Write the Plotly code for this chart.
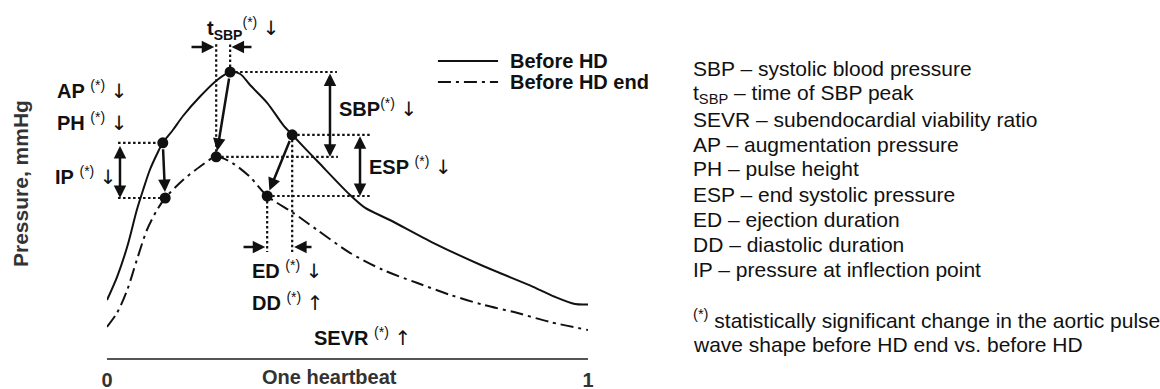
import plotly.graph_objects as go

# ---------------- data (time as fraction of one heartbeat, pressure in mmHg) ----------------
t_before = [0.000, 0.021, 0.042, 0.062, 0.075, 0.089, 0.104, 0.116, 0.137, 0.158, 0.193, 0.229,
            0.256, 0.277, 0.297, 0.333, 0.366, 0.385, 0.439, 0.505, 0.536, 0.588, 0.678, 0.782,
            0.886, 0.931, 0.973, 1.000]
p_before = [84.5, 90.3, 97.8, 107.0, 112.0, 117.0, 121.0, 123.8, 127.0, 130.5, 135.3, 139.5,
            141.5, 141.0, 138.3, 133.8, 128.3, 125.8, 119.0, 110.8, 107.6, 104.5, 98.8, 93.0,
            87.8, 85.3, 83.5, 83.4]

t_end = [0.000, 0.021, 0.042, 0.062, 0.083, 0.104, 0.121, 0.158, 0.193, 0.227, 0.260, 0.297,
         0.333, 0.387, 0.437, 0.505, 0.574, 0.644, 0.713, 0.782, 0.852, 0.921, 1.000]
p_end = [77.8, 81.3, 87.0, 94.5, 102.0, 107.0, 110.0, 114.5, 117.8, 120.3, 118.8, 115.3,
         110.5, 106.3, 102.0, 96.3, 92.0, 88.8, 85.8, 83.3, 81.3, 79.0, 77.0]

# landmark points: inflection, systolic peak, end systole
lm_names = ["IP", "SBP", "ESP"]
lm_t_before = [0.116, 0.256, 0.385]
lm_p_before = [123.8, 141.5, 125.8]
lm_t_end = [0.121, 0.227, 0.333]
lm_p_end = [110.0, 120.3, 110.5]

series_names = ["Before HD", "Before HD end"]

abbr_lines = [
    "SBP – systolic blood pressure",
    "t<sub>SBP</sub> – time of SBP peak",
    "SEVR – subendocardial viability ratio",
    "AP – augmentation pressure",
    "PH – pulse height",
    "ESP – end systolic pressure",
    "ED – ejection duration",
    "DD – diastolic duration",
    "IP – pressure at inflection point",
]
foot_lines = [
    "<sup>(*)</sup> statistically significant change in the aortic pulse",
    "wave shape before HD end vs. before HD",
]

# guide extents (time / pressure of the label columns)
guide_top_p = 148.8
tsbp_arrow_p = 147.75
sbp_guide_end_t = 0.478
esp_guide_end_t = 0.551
ed_guide_bottom_p = 96.5
ip_guide_start_t = 0.023
sbp_bar_t = 0.4636
esp_bar_t = 0.526
ip_bar_t = 0.027
ed_arrow_p = 97.75
legend_t = [0.688, 0.813]
legend_p = [144.25, 139.0]

FONT = "Liberation Sans, Arial, Helvetica, sans-serif"
BLACK = "#111111"
DOT = "2.5px,2.5px"
DASHDOT = "13px,5px,3px,5px"

fig = go.Figure()

def guide(xs, ys):
    fig.add_trace(go.Scatter(x=xs, y=ys, mode="lines", hoverinfo="skip", showlegend=False,
                             line=dict(color=BLACK, width=2.2, dash=DOT)))

iI, iS, iE = 0, 1, 2
guide([lm_t_before[iS], lm_t_before[iS]], [lm_p_before[iS], guide_top_p])
guide([lm_t_end[iS], lm_t_end[iS]], [lm_p_end[iS], guide_top_p])
guide([lm_t_before[iS], sbp_guide_end_t], [lm_p_before[iS]] * 2)
guide([lm_t_end[iS], sbp_guide_end_t + 0.002], [lm_p_end[iS]] * 2)
guide([lm_t_before[iE], esp_guide_end_t], [lm_p_before[iE]] * 2)
guide([lm_t_end[iE], esp_guide_end_t], [lm_p_end[iE]] * 2)
guide([lm_t_before[iE], lm_t_before[iE]], [lm_p_before[iE], ed_guide_bottom_p])
guide([lm_t_end[iE], lm_t_end[iE]], [lm_p_end[iE], ed_guide_bottom_p])
guide([ip_guide_start_t, lm_t_before[iI]], [lm_p_before[iI]] * 2)
guide([ip_guide_start_t, lm_t_end[iI]], [lm_p_end[iI]] * 2)

fig.add_trace(go.Scatter(x=t_before, y=p_before, mode="lines", name=series_names[0],
                         hoverinfo="skip",
                         line=dict(color=BLACK, width=2, shape="spline", smoothing=0.8)))
fig.add_trace(go.Scatter(x=t_end, y=p_end, mode="lines", name=series_names[1],
                         hoverinfo="skip",
                         line=dict(color=BLACK, width=2, shape="spline", smoothing=0.8,
                                   dash=DASHDOT)))
fig.add_trace(go.Scatter(x=lm_t_before + lm_t_end, y=lm_p_before + lm_p_end, mode="markers",
                         hoverinfo="skip",
                         marker=dict(color=BLACK, size=11), cliponaxis=False, showlegend=False))

fig.add_trace(go.Scatter(x=legend_t, y=[legend_p[0]] * 2, mode="lines", showlegend=False,
                         hoverinfo="skip", line=dict(color=BLACK, width=2)))
fig.add_trace(go.Scatter(x=legend_t, y=[legend_p[1]] * 2, mode="lines", showlegend=False,
                         hoverinfo="skip", line=dict(color=BLACK, width=2, dash=DASHDOT)))

ann = []

def arrow(x0, y0, x1, y1, both=False, st=0, sst=0):
    ann.append(dict(x=x1, y=y1, ax=x0, ay=y0, xref="x", yref="y", axref="x", ayref="y",
                    text="", showarrow=True, arrowhead=2, arrowsize=1, arrowwidth=2.5,
                    arrowcolor=BLACK, arrowside="end+start" if both else "end",
                    standoff=st, startstandoff=sst))

for k in range(3):
    arrow(lm_t_before[k], lm_p_before[k], lm_t_end[k], lm_p_end[k], st=6, sst=5)
arrow(sbp_bar_t, lm_p_before[iS], sbp_bar_t, lm_p_end[iS], both=True)
arrow(esp_bar_t, lm_p_before[iE], esp_bar_t, lm_p_end[iE], both=True)
arrow(ip_bar_t, lm_p_before[iI] - 0.4, ip_bar_t, lm_p_end[iI], both=True)
arrow(0.1726, tsbp_arrow_p, lm_t_end[iS] - 0.004, tsbp_arrow_p)
arrow(0.3035, tsbp_arrow_p, lm_t_before[iS] + 0.003, tsbp_arrow_p)
arrow(0.2807, ed_arrow_p, lm_t_end[iE] - 0.004, ed_arrow_p)
arrow(0.4283, ed_arrow_p, lm_t_before[iE] + 0.004, ed_arrow_p)

def label(x, y, text, size=20, xref="x", yref="y", xanchor="left", color=BLACK, angle=0):
    ann.append(dict(x=x, y=y, xref=xref, yref=yref, text=text, showarrow=False,
                    xanchor=xanchor, yanchor="middle", textangle=angle,
                    font=dict(family=FONT, size=size, color=color)))

STAR = "<sup>(*)</sup>"
DOWN = '<span style="font-family:DejaVu Sans;font-weight:normal">↓</span>'
UP = '<span style="font-family:DejaVu Sans;font-weight:normal">↑</span>'

label(0.2037, 152.5, "<b>t</b><sub><b>SBP</b></sub>" + STAR + " " + DOWN)
label(55 / 1160, (389 - 90) / 389, "<b>AP</b> " + STAR + " " + DOWN, xref="paper", yref="paper")
label(55 / 1160, (389 - 122) / 389, "<b>PH</b> " + STAR + " " + DOWN, xref="paper", yref="paper")
label(53 / 1160, (389 - 176) / 389, "<b>IP</b> " + STAR + " " + DOWN, xref="paper", yref="paper")
label(0.478, 132.5, "<b>SBP</b>" + STAR + " " + DOWN)
label(0.5405, 118.0, "<b>ESP</b> " + STAR + " " + DOWN)
label(0.297, 92.0, "<b>ED</b> " + STAR + " " + DOWN)
label(0.297, 84.0, "<b>DD</b> " + STAR + " " + UP)
label(0.426, 75.25, "<b>SEVR</b> " + STAR + " " + UP)
label(0.834, legend_p[0], "<b>" + series_names[0] + "</b>")
label(0.834, legend_p[1], "<b>" + series_names[1] + "</b>")
label(0.4636, 0.031, "<b>One heartbeat</b>", yref="paper", xanchor="center", color="#333333")
label(20 / 1160, (389 - 184) / 389, "<b>Pressure, mmHg</b>", size=21, xref="paper",
      yref="paper", xanchor="center", color="#333333", angle=-90)

for i, s in enumerate(abbr_lines):
    label(691 / 1160, (389 - (69 + 25 * i)) / 389, s, size=21, xref="paper", yref="paper")
for i, s in enumerate(foot_lines):
    label(691 / 1160, (389 - (319 + 25 * i)) / 389, s, size=21, xref="paper", yref="paper")

fig.update_layout(
    width=1160, height=389, margin=dict(l=0, r=0, t=0, b=0, autoexpand=False),
    paper_bgcolor="white", plot_bgcolor="white", showlegend=False,
    font=dict(family=FONT, color=BLACK),
    annotations=ann,
    xaxis=dict(domain=[107 / 1160, 588 / 1160], range=[0, 1], showgrid=False, zeroline=False,
               showline=True, linecolor="#555555", linewidth=2, ticks="inside", ticklen=6,
               tickwidth=1.5, tickcolor="#555555", tickvals=[0, 1],
               ticktext=["<b>0</b>", "<b>1</b>"], tickfont=dict(size=20, color="#333333"),
               ticklabelstandoff=3, automargin=False, fixedrange=True),
    yaxis=dict(domain=[31 / 389, 1], range=[70, 159.5], visible=False, automargin=False,
               fixedrange=True),
)

fig.write_html("out.html", config={"displayModeBar": False},
               post_script="document.body.style.margin='0px';")
